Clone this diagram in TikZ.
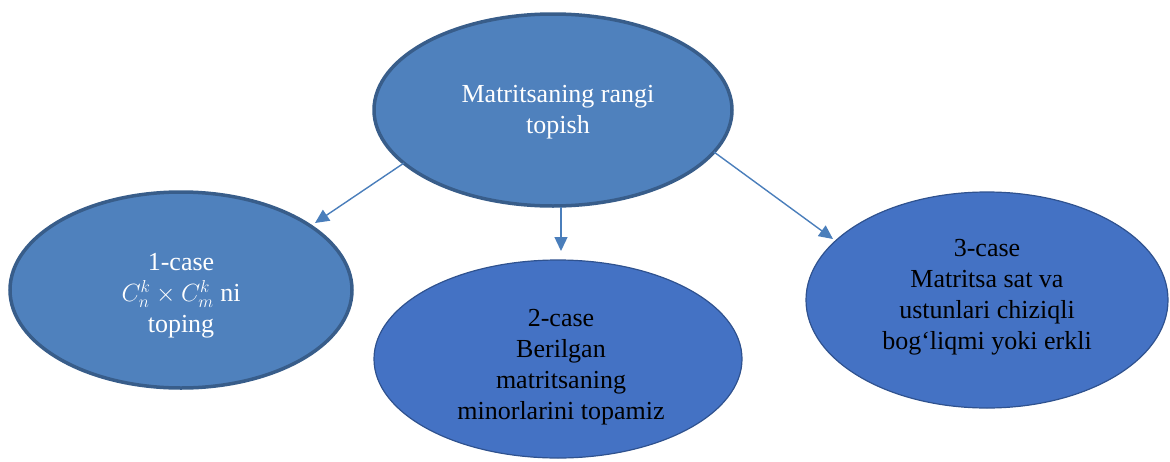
\documentclass[tikz,border=0pt]{standalone}
\usepackage{fontspec}
\setmainfont{Liberation Serif}
\usetikzlibrary{shapes.geometric,arrows.meta}
\definecolor{fillA}{HTML}{4F81BD}
\definecolor{edgeA}{HTML}{385D8A}
\definecolor{fillB}{HTML}{4472C4}
\definecolor{edgeB}{HTML}{2F528F}
\definecolor{linkcol}{HTML}{4A7EBB}
\tikzset{
  x=1pt, y=-1pt,
  ovalA/.style={ellipse, fill=fillA, draw=edgeA, line width=3.5pt,
    text=white, inner sep=0pt},
  ovalB/.style={ellipse, fill=fillB, draw=edgeB, line width=1.2pt,
    text=black, inner sep=0pt},
  label/.style={align=center, font=\fontsize{26}{31}\selectfont},
  link/.style={draw=linkcol, line width=1.4pt,
    -{Triangle[length=14pt,width=13pt]}}
}
\begin{document}
\begin{tikzpicture}
\useasboundingbox (0,0) rectangle (1170,461);
% ovals
\node[ovalA, minimum width=358pt, minimum height=192pt] (top) at (553,110) {};
\node[ovalA, minimum width=342pt, minimum height=196pt] (c1) at (181,290) {};
\node[ovalB, minimum width=368pt, minimum height=198pt] (c2) at (558,359) {};
\node[ovalB, minimum width=362pt, minimum height=216pt] (c3) at (987,300) {};
% texts
\node[label, text=white] (ttop) at (558,112) {Matritsaning rangi\\topish};
\node[label, text=white] (t1) at (181,296) {1-case\\$C_n^k\times C_m^k$ ni\\toping};
\node[label] (t2) at (561,367) {2-case\\Berilgan\\matritsaning\\minorlarini topamiz};
\node[label] (t3) at (987,297) {3-case\\Matritsa sat va\\ustunlari chiziqli\\bog‘liqmi yoki erkli};
% connectors
\coordinate (a1) at (404,163);
\coordinate (b1) at (315,223);
\coordinate (a2) at (561,207);
\coordinate (b2) at (561,251);
\coordinate (a3) at (714,152);
\coordinate (b3) at (833,239);
\draw[link] (a1) -- (b1);
\draw[link] (a2) -- (b2);
\draw[link] (a3) -- (b3);
\end{tikzpicture}
\end{document}
